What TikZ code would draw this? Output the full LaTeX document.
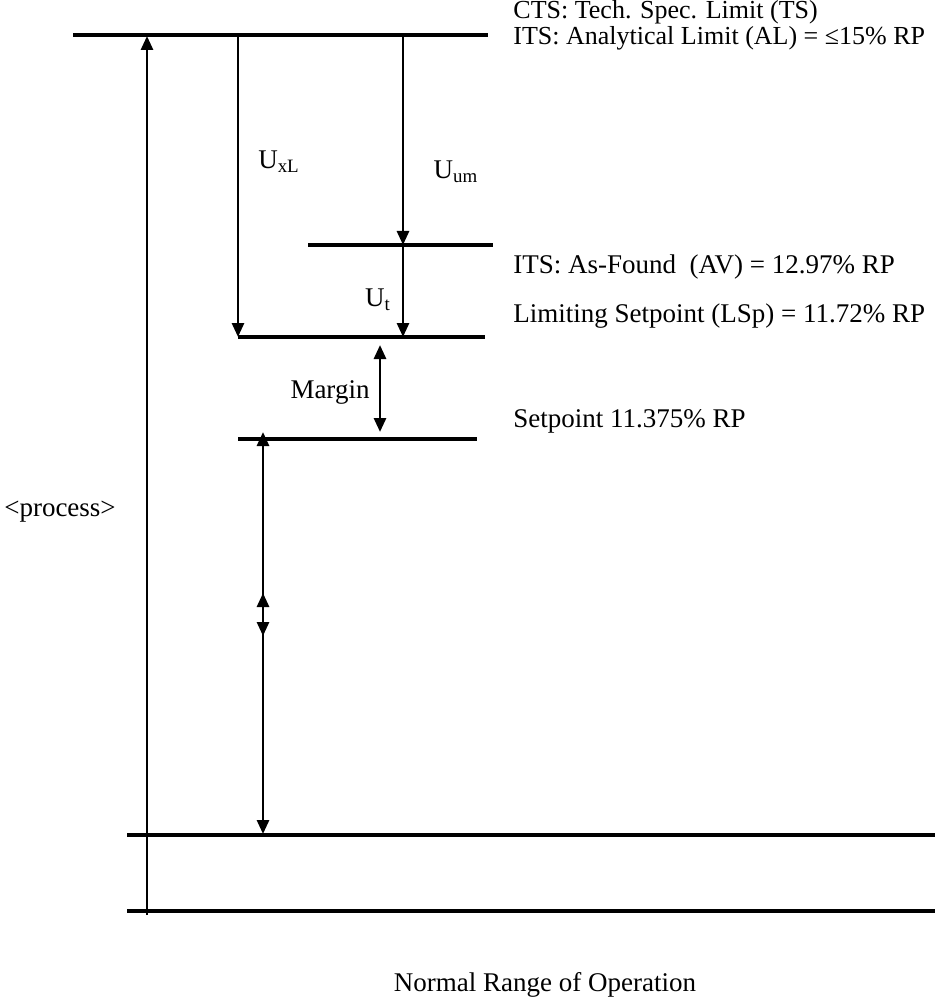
\documentclass[tikz,border=0pt]{standalone}
\usepackage{fontspec}
\setmainfont{Liberation Serif}
\usetikzlibrary{arrows.meta}
\begin{document}
\begin{tikzpicture}[x=0.5pt,y=-0.5pt,
  level/.style={line width=1.8pt},
  dim/.style={line width=1.4pt,-{Triangle[length=7pt,width=6pt]}},
  ddim/.style={line width=1.4pt,{Triangle[length=7pt,width=6pt]}-{Triangle[length=7pt,width=6pt]}},
  lbl/.style={inner sep=0pt,anchor=west,font=\fontsize{13.5}{16}\selectfont},
  toplbl/.style={inner sep=0pt,anchor=west,font=\fontsize{13}{16}\selectfont},
  clbl/.style={inner sep=0pt,font=\fontsize{13.5}{16}\selectfont}]
\useasboundingbox (0,0) rectangle (934,1000);
% level lines
\coordinate (topL) at (73,35);   \coordinate (topR) at (488,35);
\coordinate (avL) at (308,245);  \coordinate (avR) at (493,245);
\coordinate (lspL) at (238,337); \coordinate (lspR) at (485,337);
\coordinate (spL) at (238,439);  \coordinate (spR) at (477,439);
\coordinate (nrL) at (127,835);  \coordinate (nrR) at (944,835);
\coordinate (btL) at (127,911);  \coordinate (btR) at (944,911);
\draw[level] (topL) -- (topR);
\draw[level] (avL) -- (avR);
\draw[level] (lspL) -- (lspR);
\draw[level] (spL) -- (spR);
\draw[level] (nrL) -- (nrR);
\draw[level] (btL) -- (btR);
% arrows
\coordinate (procB) at (147,915); \coordinate (procT) at (147,36);
\draw[dim] (procB) -- (procT);
\coordinate (uxlT) at (238,35); \coordinate (uxlB) at (238,337);
\draw[dim] (uxlT) -- (uxlB);
\coordinate (uumT) at (403,35); \coordinate (uumB) at (403,245);
\draw[dim] (uumT) -- (uumB);
\coordinate (utB) at (403,337);
\draw[dim] (uumB) -- (utB);
\coordinate (mgT) at (380,345); \coordinate (mgB) at (380,432);
\draw[ddim] (mgT) -- (mgB);
\coordinate (aT) at (263,432); \coordinate (aB) at (263,636);
\draw[ddim] (aT) -- (aB);
\coordinate (bT) at (263,593); \coordinate (bB) at (263,834);
\draw[ddim] (bT) -- (bB);
% labels
\node[toplbl] (cts) at (513,12) {CTS: Tech. Spec. Limit (TS)};
\node[toplbl] (its) at (513,38) {ITS: Analytical Limit (AL) = ≤15\% RP};
\node[lbl] (av) at (513,267) {ITS: As-Found\ \ (AV) = 12.97\% RP};
\node[lbl] (lsp) at (513,316) {Limiting Setpoint (LSp) = 11.72\% RP};
\node[lbl] (sp) at (513,421) {Setpoint 11.375\% RP};
\node[clbl] (uxl) at (279,162) {U\textsubscript{xL}};
\node[clbl] (uum) at (456,172) {U\textsubscript{um}};
\node[clbl] (ut) at (378,300) {U\textsubscript{t}};
\node[clbl] (mg) at (330,392) {Margin};
\node[clbl] (proc) at (60,512) {<process>};
\node[clbl] (nro) at (545,985) {Normal Range of Operation};
\end{tikzpicture}
\end{document}
